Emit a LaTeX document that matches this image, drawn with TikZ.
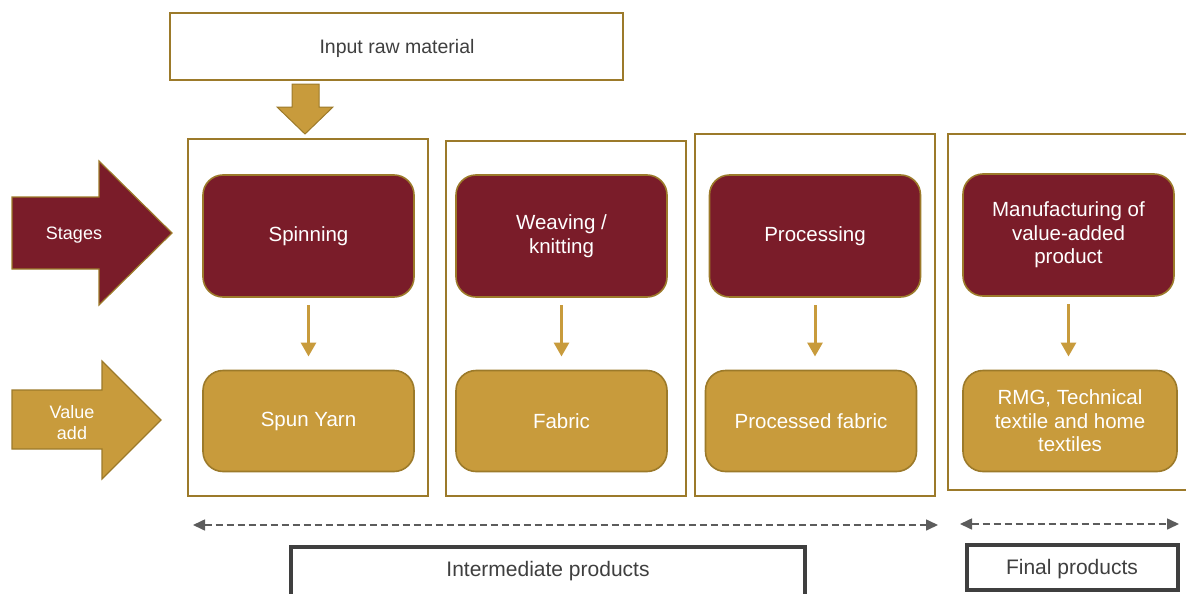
\documentclass[tikz,border=0pt]{standalone}
\usepackage{fontspec}
\setmainfont{Liberation Sans}
\usetikzlibrary{arrows.meta}
\definecolor{wine}{HTML}{7A1C29}
\definecolor{goldfill}{HTML}{C89B3C}
\definecolor{goldline}{HTML}{9C7A2A}
\definecolor{darkgray}{HTML}{3F3F3F}
\tikzset{
  framebox/.style={draw=goldline, line width=2.4pt, fill=white},
  redbox/.style={draw=goldline, line width=1.6pt, fill=wine, rounded corners=20pt,
    minimum width=211pt, minimum height=122pt, inner sep=0pt, outer sep=0pt,
    text=white, align=center, font=\fontsize{20.5}{23.5}\selectfont},
  goldbox/.style={draw=goldline, line width=1.6pt, fill=goldfill, rounded corners=20pt,
    minimum width=211pt, minimum height=101pt, inner sep=0pt, outer sep=0pt,
    text=white, align=center, font=\fontsize{20.5}{23.5}\selectfont},
  flowarrow/.style={draw=goldfill, line width=3pt, -{Triangle[width=15pt,length=14pt]},
    shorten <=8pt, shorten >=14pt},
  spanarrow/.style={draw=darkgray!85, line width=1.6pt, dash pattern=on 7pt off 4pt,
    {Triangle[width=11pt,length=12pt]}-{Triangle[width=11pt,length=12pt]}},
  labelbox/.style={draw=darkgray, line width=4pt, fill=white},
  labeltext/.style={text=darkgray, font=\fontsize{21}{24}\selectfont},
  blocklabel/.style={text=white, align=center, font=\fontsize{18}{21}\selectfont},
}
\begin{document}
\begin{tikzpicture}[x=1pt,y=-1pt]
\useasboundingbox (0,0) rectangle (1186,594);
\clip (0,0) rectangle (1186,594);
% input raw material
\draw[framebox] (170,13) rectangle (623,80);
\node[text=darkgray, font=\fontsize{19.5}{22}\selectfont] (input) at (397,48) {Input raw material};
% down block arrow
\draw[fill=goldfill, draw=goldline, line width=1pt] (292,84) -- (319,84) -- (319,107) -- (333,107)
  -- (305,134) -- (277,107) -- (292,107) -- cycle;
% column frames
\draw[framebox] (188,139) rectangle (428,496);
\draw[framebox] (446,141) rectangle (686,496);
\draw[framebox] (695,134) rectangle (935,496);
\draw[framebox] (948,134) rectangle (1200,490);
% stages arrow
\draw[fill=wine, draw=goldline, line width=1.2pt] (12,197) -- (99,197) -- (99,161) -- (172,233)
  -- (99,305) -- (99,269) -- (12,269) -- cycle;
\node[blocklabel] (stages) at (74,235) {Stages};
% value add arrow
\draw[fill=goldfill, draw=goldline, line width=1.2pt] (12,390) -- (102,390) -- (102,361) -- (161,420)
  -- (102,479) -- (102,449) -- (12,449) -- cycle;
\node[blocklabel] (valueadd) at (72,423) {Value\\add};
% stage boxes
\node[redbox] (spin) at (308.5,236) {\raisebox{-3pt}{Spinning}};
\node[redbox] (weave) at (561.5,236) {Weaving /\\knitting};
\node[redbox] (proc) at (815,236) {\raisebox{-3pt}{Processing}};
\node[redbox] (manu) at (1068.5,235) {Manufacturing of\\value-added\\product};
% value boxes
\node[goldbox] (yarn) at (308.5,421) {\raisebox{-2pt}{Spun Yarn}};
\node[goldbox] (fabric) at (561.5,421) {\raisebox{-2pt}{Fabric}};
\node[goldbox] (pfabric) at (811,421) {\raisebox{-2pt}{Processed fabric}};
\node[goldbox, minimum width=214pt] (rmg) at (1070,421) {RMG, Technical\\textile and home\\textiles};
% flow arrows
\draw[flowarrow] (spin.south) -- (yarn.north);
\draw[flowarrow] (weave.south) -- (weave.south |- fabric.north);
\draw[flowarrow] (proc.south) -- (proc.south |- pfabric.north);
\draw[flowarrow] (manu.south) -- (manu.south |- rmg.north);
% span arrows
\coordinate (a1) at (193,525);
\coordinate (a2) at (938,525);
\coordinate (b1) at (960,524);
\coordinate (b2) at (1179,524);
\draw[spanarrow] (a1) -- (a2);
\draw[spanarrow] (b1) -- (b2);
% label boxes
\draw[labelbox] (291,547) rectangle (805,610);
\node[labeltext] (inter) at (548,571) {Intermediate products};
\draw[labelbox] (967,545) rectangle (1178,590);
\node[labeltext] (final) at (1072,569) {Final products};
\end{tikzpicture}
\end{document}
